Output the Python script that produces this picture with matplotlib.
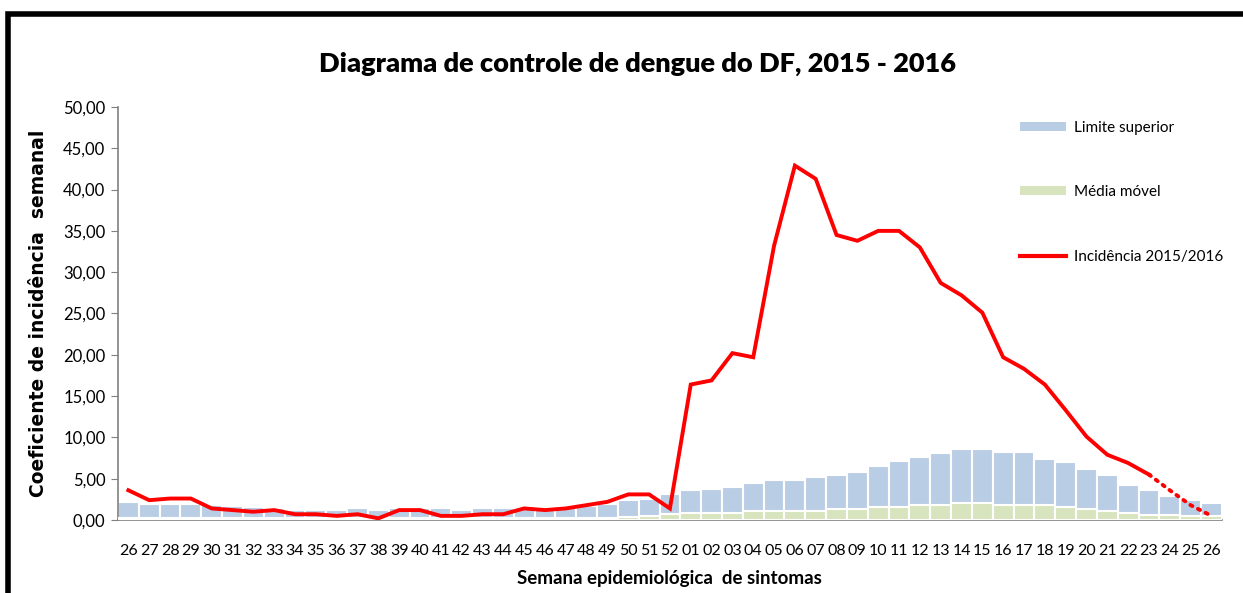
import matplotlib
matplotlib.use("Agg")
import numpy as np
import matplotlib.pyplot as plt
from matplotlib.patches import Rectangle, Patch
from matplotlib.lines import Line2D

# Semanas epidemiologicas 26/2015 ... 26/2016
semanas = [str(s) for s in range(26, 53)] + ["%02d" % s for s in range(1, 27)]

limite_superior = [2.2, 1.9, 1.9, 1.9, 1.8, 1.7, 1.6, 1.4, 1.2, 1.2, 1.2, 1.4, 1.2, 1.4,
                   1.4, 1.4, 1.2, 1.4, 1.4, 1.5, 1.5, 1.5, 1.7, 1.9, 2.4, 2.6, 3.1,
                   3.6, 3.8, 4.0, 4.5, 4.8, 4.8, 5.2, 5.4, 5.8, 6.5, 7.1, 7.6, 8.1,
                   8.6, 8.6, 8.2, 8.2, 7.4, 7.0, 6.2, 5.5, 4.2, 3.6, 2.9, 2.4, 2.1]

media_movel = [0.3, 0.3, 0.3, 0.3, 0.3, 0.3, 0.3, 0.3, 0.2, 0.2, 0.2, 0.2, 0.2, 0.2,
               0.2, 0.2, 0.2, 0.2, 0.2, 0.2, 0.2, 0.2, 0.3, 0.3, 0.4, 0.5, 0.7,
               0.9, 0.9, 0.9, 1.1, 1.1, 1.1, 1.1, 1.3, 1.3, 1.6, 1.6, 1.8, 1.8,
               2.1, 2.1, 1.8, 1.8, 1.8, 1.6, 1.3, 1.1, 0.9, 0.6, 0.6, 0.5, 0.5]

incidencia = [3.6, 2.4, 2.6, 2.6, 1.4, 1.2, 1.0, 1.2, 0.7, 0.7, 0.5, 0.7, 0.2, 1.2,
              1.2, 0.5, 0.5, 0.7, 0.7, 1.4, 1.2, 1.4, 1.8, 2.2, 3.1, 3.1, 1.4,
              16.4, 16.9, 20.2, 19.7, 33.2, 42.9, 41.3, 34.5, 33.8, 35.0, 35.0, 33.0, 28.7,
              27.2, 25.1, 19.7, 18.3, 16.4, 13.3, 10.1, 7.9, 6.9, 5.5, 3.6, 1.8, 0.5]

# ultima semana confirmada (23/2016); daqui em diante a linha e pontilhada
ultima_confirmada = semanas.index("23", 27)

AZUL = "#b9cde5"
VERDE = "#d7e4bd"
VERMELHO = "#ff0000"

narrow = ["Lato", "DejaVu Sans"]

fig = plt.figure(figsize=(12.43, 5.93), dpi=100)
ax = fig.add_axes([0.0949, 0.1231, 0.8881, 0.6965])

x = np.arange(len(semanas))
ax.bar(x, limite_superior, width=1.0, color=AZUL, edgecolor="white", linewidth=1.5, zorder=2)
ax.bar(x, media_movel, width=1.0, color=VERDE, edgecolor="white", linewidth=1.5, zorder=3)

inc = np.array(incidencia)
ax.plot(x[:ultima_confirmada + 1], inc[:ultima_confirmada + 1], color=VERMELHO, lw=2.8,
        solid_joinstyle="miter", zorder=4)
ax.plot(x[ultima_confirmada:], inc[ultima_confirmada:], color=VERMELHO, lw=2.8,
        linestyle=(0, (0.6, 1.6)), dash_capstyle="round", zorder=4)

ax.set_xlim(-0.5, len(semanas) - 0.5)
ax.set_ylim(0, 50)
ax.set_yticks(np.arange(0, 51, 5))
ax.set_yticklabels([("%.2f" % v).replace(".", ",") for v in np.arange(0, 51, 5)],
                   family=narrow, fontsize=12)
ax.set_xticks(x)
ax.set_xticklabels(semanas, family=narrow, fontsize=11.5)
ax.tick_params(axis="x", length=0, pad=17)
ax.tick_params(axis="y", length=5, color="#808080", pad=4)

for s in ["top", "right"]:
    ax.spines[s].set_visible(False)
for s in ["left", "bottom"]:
    ax.spines[s].set_color("#808080")
    ax.spines[s].set_linewidth(1.2)

ax.set_xlabel("Semana epidemiológica  de sintomas", fontsize=13.5, fontweight="bold",
              family=narrow, labelpad=9)
ax.set_ylabel("Coeficiente de incidência  semanal", fontsize=13.5, fontweight="bold",
              family=["DejaVu Sans"], labelpad=11)

fig.text(0.513, 0.893, "Diagrama de controle de dengue do DF, 2015 - 2016",
         ha="center", va="center", fontsize=19.5, fontweight="heavy", family=narrow)

handles = [Patch(facecolor=AZUL, edgecolor="none"),
           Patch(facecolor=VERDE, edgecolor="none"),
           Line2D([0], [0], color=VERMELHO, lw=3)]
labels = ["Limite superior", "Média móvel", "Incidência 2015/2016"]
leg = ax.legend(handles, labels, loc="upper left", bbox_to_anchor=(0.805, 1.0),
                frameon=False, labelspacing=3.3, handlelength=3.0, handleheight=0.5,
                handletextpad=0.5, prop={"family": narrow, "size": 11})

# moldura preta em volta do grafico
fig.patches.append(Rectangle((8 / 1243, -0.05), 1.2, 1 - 14 / 593 + 0.05,
                             transform=fig.transFigure, fill=False,
                             edgecolor="black", linewidth=4))

fig.savefig("out.png", dpi=100)
